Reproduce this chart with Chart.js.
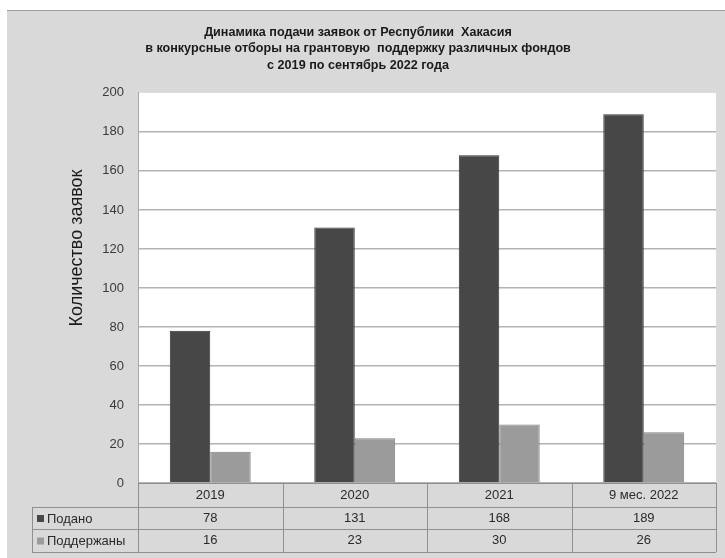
<!DOCTYPE html>
<html>
<head>
<meta charset="utf-8">
<script src="https://cdn.jsdelivr.net/npm/chart.js@4.4.1/dist/chart.umd.min.js"></script>
<style>
  html, body { margin: 0; padding: 0; background: #fff; }
  #wrap { width: 725px; height: 558px; }
</style>
</head>
<body>
<div id="wrap"><canvas id="chart" width="725" height="558"></canvas></div>
<script>
// chart data
const categories = ['2019', '2020', '2021', '9 мес. 2022'];
const seriesNames = ['Подано', 'Поддержаны'];
const submitted = [78, 131, 168, 189];
const supported = [16, 23, 30, 26];
const yMin = 0, yMax = 200, yStep = 20;

const titleLines = [
    'Динамика подачи заявок от Республики  Хакасия',
    'в конкурсные отборы на грантовую  поддержку различных фондов',
    'с 2019 по сентябрь 2022 года'
];
const yTitle = 'Количество заявок';

const seriesColors = ['#474747', '#9b9b9b'];
const seriesBorders = ['#333333', '#808080'];
const textFont = '"Liberation Sans", Arial, sans-serif';

// grey sheet + white plot area
const background = {
    id: 'background',
    beforeDraw(chart) {
        const ctx = chart.ctx, a = chart.chartArea;
        ctx.save();
        ctx.fillStyle = '#ffffff';
        ctx.fillRect(0, 0, chart.width, chart.height);
        ctx.fillStyle = '#d9d9d9';
        ctx.fillRect(7, 10, chart.width - 7, chart.height - 10);
        ctx.fillStyle = '#9a9a9a';
        ctx.fillRect(7, 10, chart.width - 7, 1);
        ctx.fillStyle = '#ffffff';
        ctx.fillRect(a.left, a.top, a.right - a.left, a.bottom - a.top);
        ctx.restore();
    }
};

// rotated axis title, data table under the plot
const extras = {
    id: 'extras',
    afterDraw(chart) {
        const ctx = chart.ctx, a = chart.chartArea;
        const x = chart.scales.x;
        ctx.save();

        // y axis title
        ctx.translate(77, 248);
        ctx.rotate(-Math.PI / 2);
        ctx.fillStyle = '#1a1a1a';
        ctx.font = '18px ' + textFont;
        ctx.textAlign = 'center';
        ctx.textBaseline = 'middle';
        ctx.fillText(yTitle, 0, 0);
        ctx.setTransform(1, 0, 0, 1, 0, 0);

        // table grid
        const rowTop = a.bottom, r1 = a.bottom + 24, r2 = a.bottom + 46, r3 = a.bottom + 69;
        const legendLeft = 32;
        const colW = (a.right - a.left) / categories.length;
        ctx.strokeStyle = '#8f8f8f';
        ctx.lineWidth = 1;
        ctx.beginPath();
        ctx.moveTo(a.left, rowTop + 0.5); ctx.lineTo(a.right, rowTop + 0.5);
        [r1, r2, r3].forEach(y => { ctx.moveTo(legendLeft, y + 0.5); ctx.lineTo(a.right, y + 0.5); });
        ctx.moveTo(legendLeft + 0.5, r1); ctx.lineTo(legendLeft + 0.5, r3);
        for (let i = 0; i <= categories.length; i++) {
            const lx = Math.round(a.left + i * colW) + 0.5;
            ctx.moveTo(lx, rowTop); ctx.lineTo(lx, r3);
        }
        ctx.stroke();

        // table text
        ctx.font = '13px ' + textFont;
        ctx.fillStyle = '#2a2a2a';
        ctx.textAlign = 'center';
        ctx.textBaseline = 'middle';
        const rows = [submitted, supported];
        categories.forEach((c, i) => {
            const cx = x.getPixelForValue(i);
            ctx.fillText(c, cx, (rowTop + r1) / 2);
            ctx.fillText(String(rows[0][i]), cx, (r1 + r2) / 2);
            ctx.fillText(String(rows[1][i]), cx, (r2 + r3) / 2);
        });

        // legend keys in the table
        ctx.textAlign = 'left';
        seriesNames.forEach((name, k) => {
            const cy = k === 0 ? (r1 + r2) / 2 : (r2 + r3) / 2;
            ctx.fillStyle = seriesColors[k];
            ctx.fillRect(37, cy - 3, 7, 7);
            ctx.fillStyle = '#2a2a2a';
            ctx.fillText(name, 47, cy + 1);
        });
        ctx.restore();
    }
};

new Chart(document.getElementById('chart'), {
    type: 'bar',
    data: {
        labels: categories,
        datasets: [
            {
                label: seriesNames[0],
                data: submitted,
                backgroundColor: seriesColors[0],
                borderColor: seriesBorders[0],
                borderWidth: 1
            },
            {
                label: seriesNames[1],
                data: supported,
                backgroundColor: seriesColors[1],
                borderColor: seriesBorders[1],
                borderWidth: 1
            }
        ]
    },
    options: {
        responsive: false,
        animation: false,
        devicePixelRatio: 1,
        layout: { padding: { left: 0, right: 9, top: 0, bottom: 6 } },
        datasets: { bar: { categoryPercentage: 0.56, barPercentage: 1.0 } },
        plugins: {
            legend: { display: false },
            tooltip: { enabled: false },
            title: {
                display: true,
                text: titleLines,
                color: '#1a1a1a',
                font: { family: textFont, size: 12.6, weight: 'bold', lineHeight: 1.32 },
                padding: { top: 24, bottom: 19 }
            }
        },
        scales: {
            x: {
                grid: { display: false },
                border: { display: false },
                ticks: { display: false },
                afterFit(scale) { scale.height = 69; }
            },
            y: {
                min: yMin,
                max: yMax,
                ticks: {
                    stepSize: yStep,
                    padding: 14,
                    color: '#3a3a3a',
                    font: { family: textFont, size: 13 }
                },
                grid: {
                    drawTicks: false,
                    lineWidth: 1.5,
                    color: ctx => ctx.tick && ctx.tick.value === yMax ? 'rgba(0,0,0,0)' : '#b3b3b3'
                },
                border: { display: true, color: '#a8a8a8', width: 1 },
                afterFit(scale) { scale.width = 138; }
            }
        }
    },
    plugins: [background, extras]
});
</script>
</body>
</html>
